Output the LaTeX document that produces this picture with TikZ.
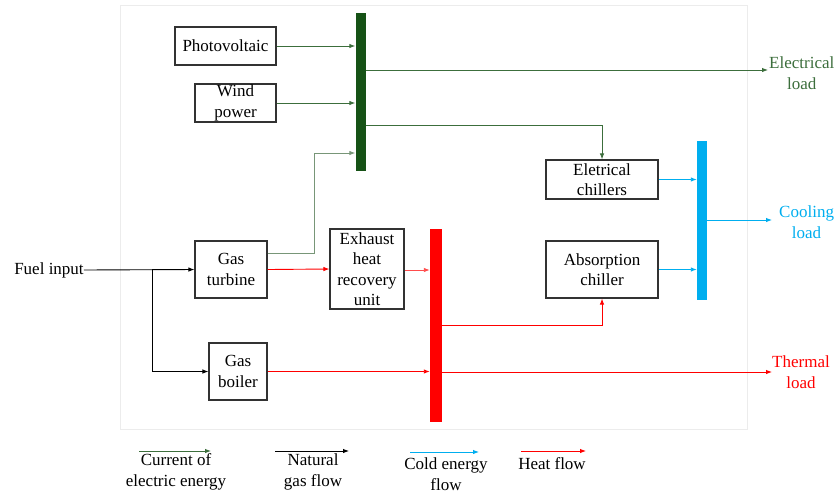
\documentclass[tikz,border=0pt]{standalone}
\usepackage{fontspec}
\setmainfont{Liberation Serif}
\usetikzlibrary{arrows.meta}
\definecolor{busgreen}{RGB}{22,82,22}
\definecolor{elgreen}{RGB}{60,110,60}
\definecolor{palegreen}{RGB}{120,150,120}
\definecolor{coldblue}{RGB}{0,174,239}
\definecolor{heatred}{RGB}{255,0,0}
\definecolor{boxline}{RGB}{50,50,50}
\begin{document}
\begin{tikzpicture}[x=1pt,y=-1pt,
  every node/.style={font=\fontsize{17}{20.5}\selectfont, inner sep=0pt, align=center},
  box/.style={draw=boxline, line width=1.1pt, fill=white},
  bus/.style={inner sep=0pt, minimum width=10pt},
  flow/.style={line width=0.9pt, -{Latex[length=6pt,width=4.5pt]}},
  lbl/.style={anchor=west}
]
\useasboundingbox (0,0) rectangle (837,491);
\draw[gray!15, line width=1pt] (120,5) rectangle (747,429);

% boxes
\node[box, minimum width=101pt, minimum height=38pt] (pv) at (225.5,46) {Photovoltaic};
\node[box, minimum width=81pt, minimum height=38pt] (wind) at (235.5,103) {Wind\\power};
\node[box, minimum width=72pt, minimum height=57pt] (gt) at (231,269.5) {Gas\\turbine};
\node[box, minimum width=58pt, minimum height=57pt] (gb) at (238,371.5) {Gas\\boiler};
\node[box, minimum width=74pt, minimum height=80pt] (ehr) at (367,269) {Exhaust\\heat\\recovery\\unit};
\node[box, minimum width=112pt, minimum height=39pt] (ec) at (602,179.5) {Eletrical\\chillers};
\node[box, minimum width=112pt, minimum height=57pt] (ac) at (602,269.5) {Absorption\\chiller};

% buses
\node[bus, fill=busgreen, minimum height=158pt] (gbus) at (360.5,92) {};
\node[bus, fill=heatred, minimum width=12pt, minimum height=193pt] (rbus) at (436,325.5) {};
\node[bus, fill=coldblue, minimum height=159pt] (cbus) at (702,220.5) {};

% text nodes
\node (fuel) at (49,270) {Fuel input};
\node[lbl, text=elgreen] (elload) at (769,73) {Electrical\\load};
\node[lbl, text=coldblue] (coolload) at (779,222) {Cooling\\load};
\node[lbl, text=heatred] (thload) at (772,372) {Thermal\\load};

% coordinates
\coordinate (branch) at (152,270);
\coordinate (elend) at (768,70);
\coordinate (coolend) at (772,220);
\coordinate (thend) at (772,372);
\coordinate (gtup) at (314,253);
\coordinate (ectap) at (603,125);
\coordinate (actap) at (603,325);

% natural gas
\draw[flow, black] (fuel.east) -- (gt.west);
\draw[flow, black] (branch) |- (gb.west);

% electricity
\draw[flow, elgreen] (pv.east) -- (pv.east -| gbus.west);
\draw[flow, elgreen] (wind.east) -- (wind.east -| gbus.west);
\draw[flow, palegreen] (gt.east |- gtup) -- (gtup) |- (gtup |- 0,153) -- (gbus.west |- 0,153);
\draw[flow, elgreen] (gbus.east |- elend) -- (elend);
\draw[flow, elgreen] (gbus.east |- ectap) -| (ec.north);

% heat
\draw[flow, heatred] (gt.east) -- (ehr.west);
\draw[flow, heatred!70] (ehr.east |- 0,270) -- (rbus.west |- 0,270);
\draw[flow, heatred] (gb.east) -- (gb.east -| rbus.west);
\draw[flow, heatred] (rbus.east |- actap) -| (ac.south);
\draw[flow, heatred] (rbus.east |- thend) -- (thend);

% cold
\draw[flow, coldblue] (ec.east) -- (ec.east -| cbus.west);
\draw[flow, coldblue] (ac.east) -- (ac.east -| cbus.west);
\draw[flow, coldblue] (cbus.east |- coolend) -- (coolend);

% legend
\coordinate (lg1a) at (139,451); \coordinate (lg1b) at (211,451);
\coordinate (lg2a) at (275,451); \coordinate (lg2b) at (349,451);
\coordinate (lg3a) at (410,452); \coordinate (lg3b) at (479,452);
\coordinate (lg4a) at (521,451); \coordinate (lg4b) at (586,451);
\draw[flow, elgreen] (lg1a) -- (lg1b);
\draw[flow, black] (lg2a) -- (lg2b);
\draw[flow, coldblue] (lg3a) -- (lg3b);
\draw[flow, heatred] (lg4a) -- (lg4b);
\node (t1) at (176,472) {Current of\\electric energy};
\node (t2) at (313,472) {Natural\\gas flow};
\node (t3) at (446,474) {Cold energy\\flow};
\node (t4) at (552,464) {Heat flow};
\end{tikzpicture}
\end{document}
